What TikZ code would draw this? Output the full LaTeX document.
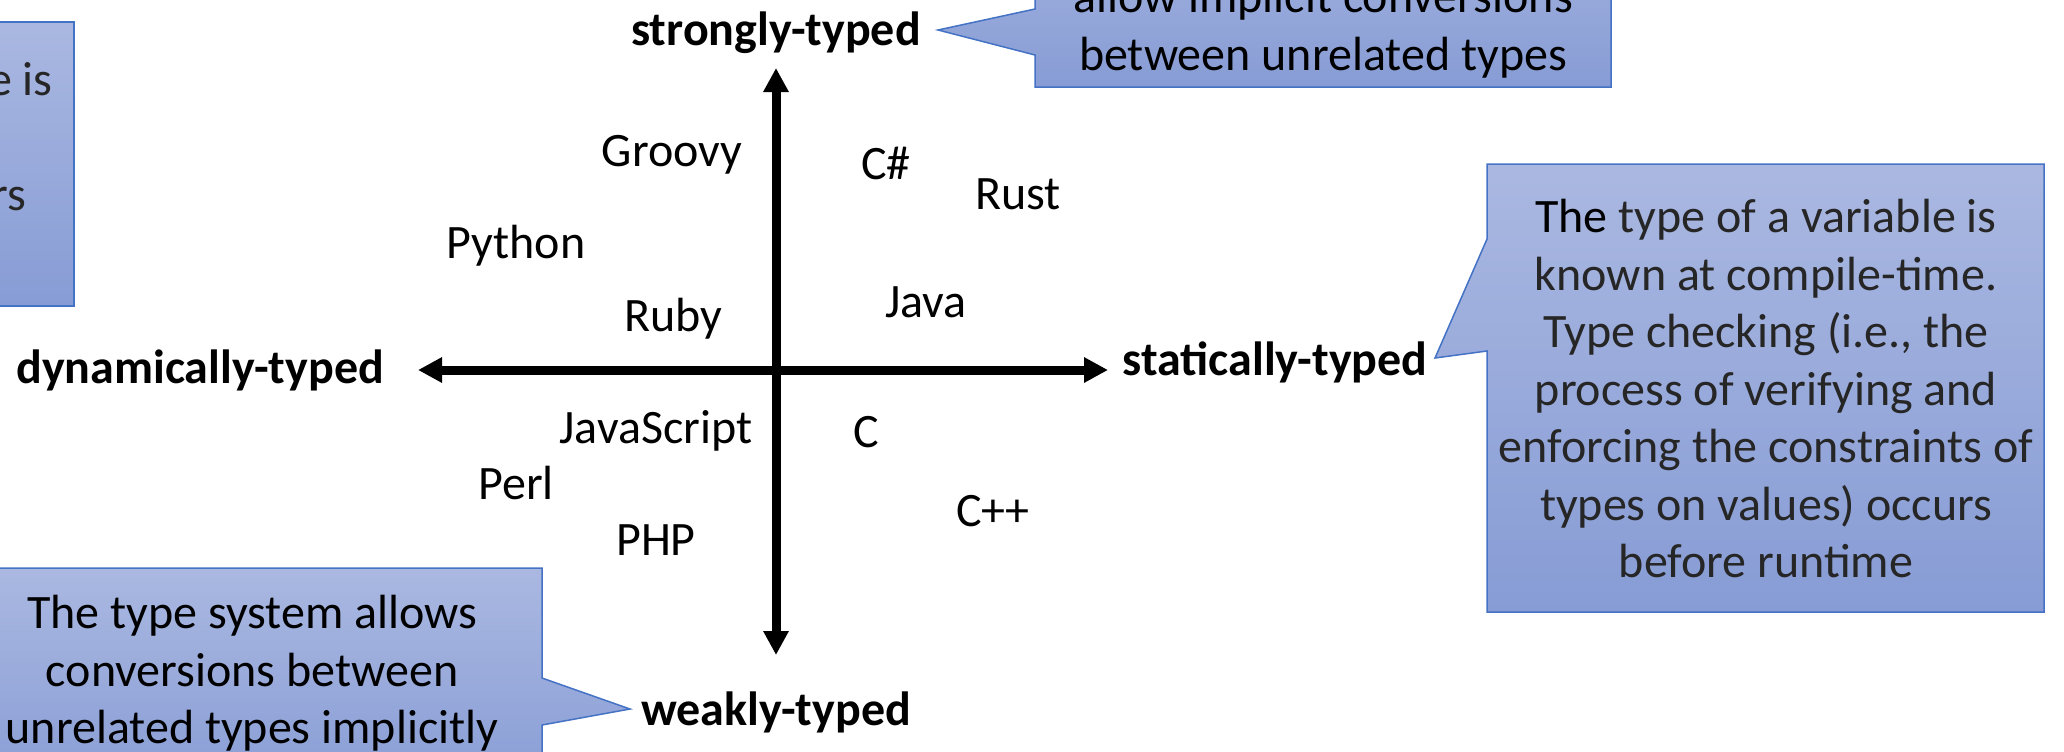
\documentclass[tikz,border=0pt]{standalone}
\usepackage{fontspec}
\setmainfont{Carlito}
\usetikzlibrary{arrows.meta}
\definecolor{calloutTop}{HTML}{AAB8E1}
\definecolor{calloutBottom}{HTML}{879CD5}
\definecolor{calloutEdge}{HTML}{4472C4}
\definecolor{noteText}{HTML}{262626}
\begin{document}
\begin{tikzpicture}[x=0.5pt,y=-0.5pt,
  lang/.style={font=\fontsize{24}{28.75}\selectfont, anchor=base, inner sep=0pt},
  axislabel/.style={font=\fontsize{24}{28.75}\selectfont\bfseries, anchor=base, inner sep=0pt},
  note/.style={font=\fontsize{24}{28.75}\selectfont, align=center, inner sep=0pt},
  callout/.style={draw=calloutEdge, line width=0.75pt, top color=calloutTop, bottom color=calloutBottom, line join=miter},
  axisline/.style={line width=4.5pt, {Triangle[length=12pt,width=12pt]}-{Triangle[length=12pt,width=12pt]}}
]
\useasboundingbox (0,0) rectangle (2064,751);

% speech-bubble backgrounds
\path[callout] (-40,22) rectangle (74,306);
\path[callout] (1035,-110) -- (1035,9) -- (938,30) -- (1035,55) -- (1035,87)
  -- (1611,87) -- (1611,-110) -- cycle;
\path[callout] (1487,164) -- (2044,164) -- (2044,612) -- (1487,612)
  -- (1487,351) -- (1435,358) -- (1487,239) -- cycle;
\path[callout] (-42,568) -- (542,568) -- (542,678) -- (630,709) -- (542,725)
  -- (542,800) -- (-42,800) -- cycle;

% bubble texts
\node[note, text=noteText, anchor=base east] (dynA) at (53,95) {e is};
\node[note, text=noteText, anchor=base east] (dynB) at (27,210) {rs};
\node[note] (strongnote) at (1323,28.75) {allow implicit conversions\\between unrelated types};
\node[note, text=noteText] (statnote) at (1766,388.5)
  {\textcolor{black}{The} type of a variable is\\known at compile-time.\\Type checking (i.e., the\\process of verifying and\\enforcing the constraints of\\types on values) occurs\\before runtime};
\node[note] (weaknote) at (252,673.5) {The type system allows\\conversions between\\unrelated types implicitly};

% axis labels
\node[axislabel] (strong) at (776,45) {strongly-typed};
\node[axislabel] (weak) at (776,725) {weakly-typed};
\node[axislabel] (dyn) at (200,383) {dynamically-typed};
\node[axislabel] (stat) at (1275,375) {statically-typed};

% axes
\coordinate (ytop) at (776,68);
\coordinate (ybot) at (776,655);
\coordinate (xleft) at (418,370);
\coordinate (xright) at (1108,370);
\draw[axisline] (xleft) -- (xright);
\draw[axisline] (ybot) -- (ytop);

% languages
\node[lang] (groovy) at (672,166) {Groovy};
\node[lang] (csharp) at (886,179) {C\#};
\node[lang] (rust) at (1018,209) {Rust};
\node[lang] (python) at (516,258) {Python};
\node[lang] (ruby) at (673,331) {Ruby};
\node[lang] (java) at (926,317) {Java};
\node[lang] (javascript) at (656,443) {JavaScript};
\node[lang] (c) at (866,447) {C};
\node[lang] (perl) at (516,499) {Perl};
\node[lang] (cpp) at (993,526) {C++};
\node[lang] (php) at (656,555) {PHP};
\end{tikzpicture}
\end{document}
